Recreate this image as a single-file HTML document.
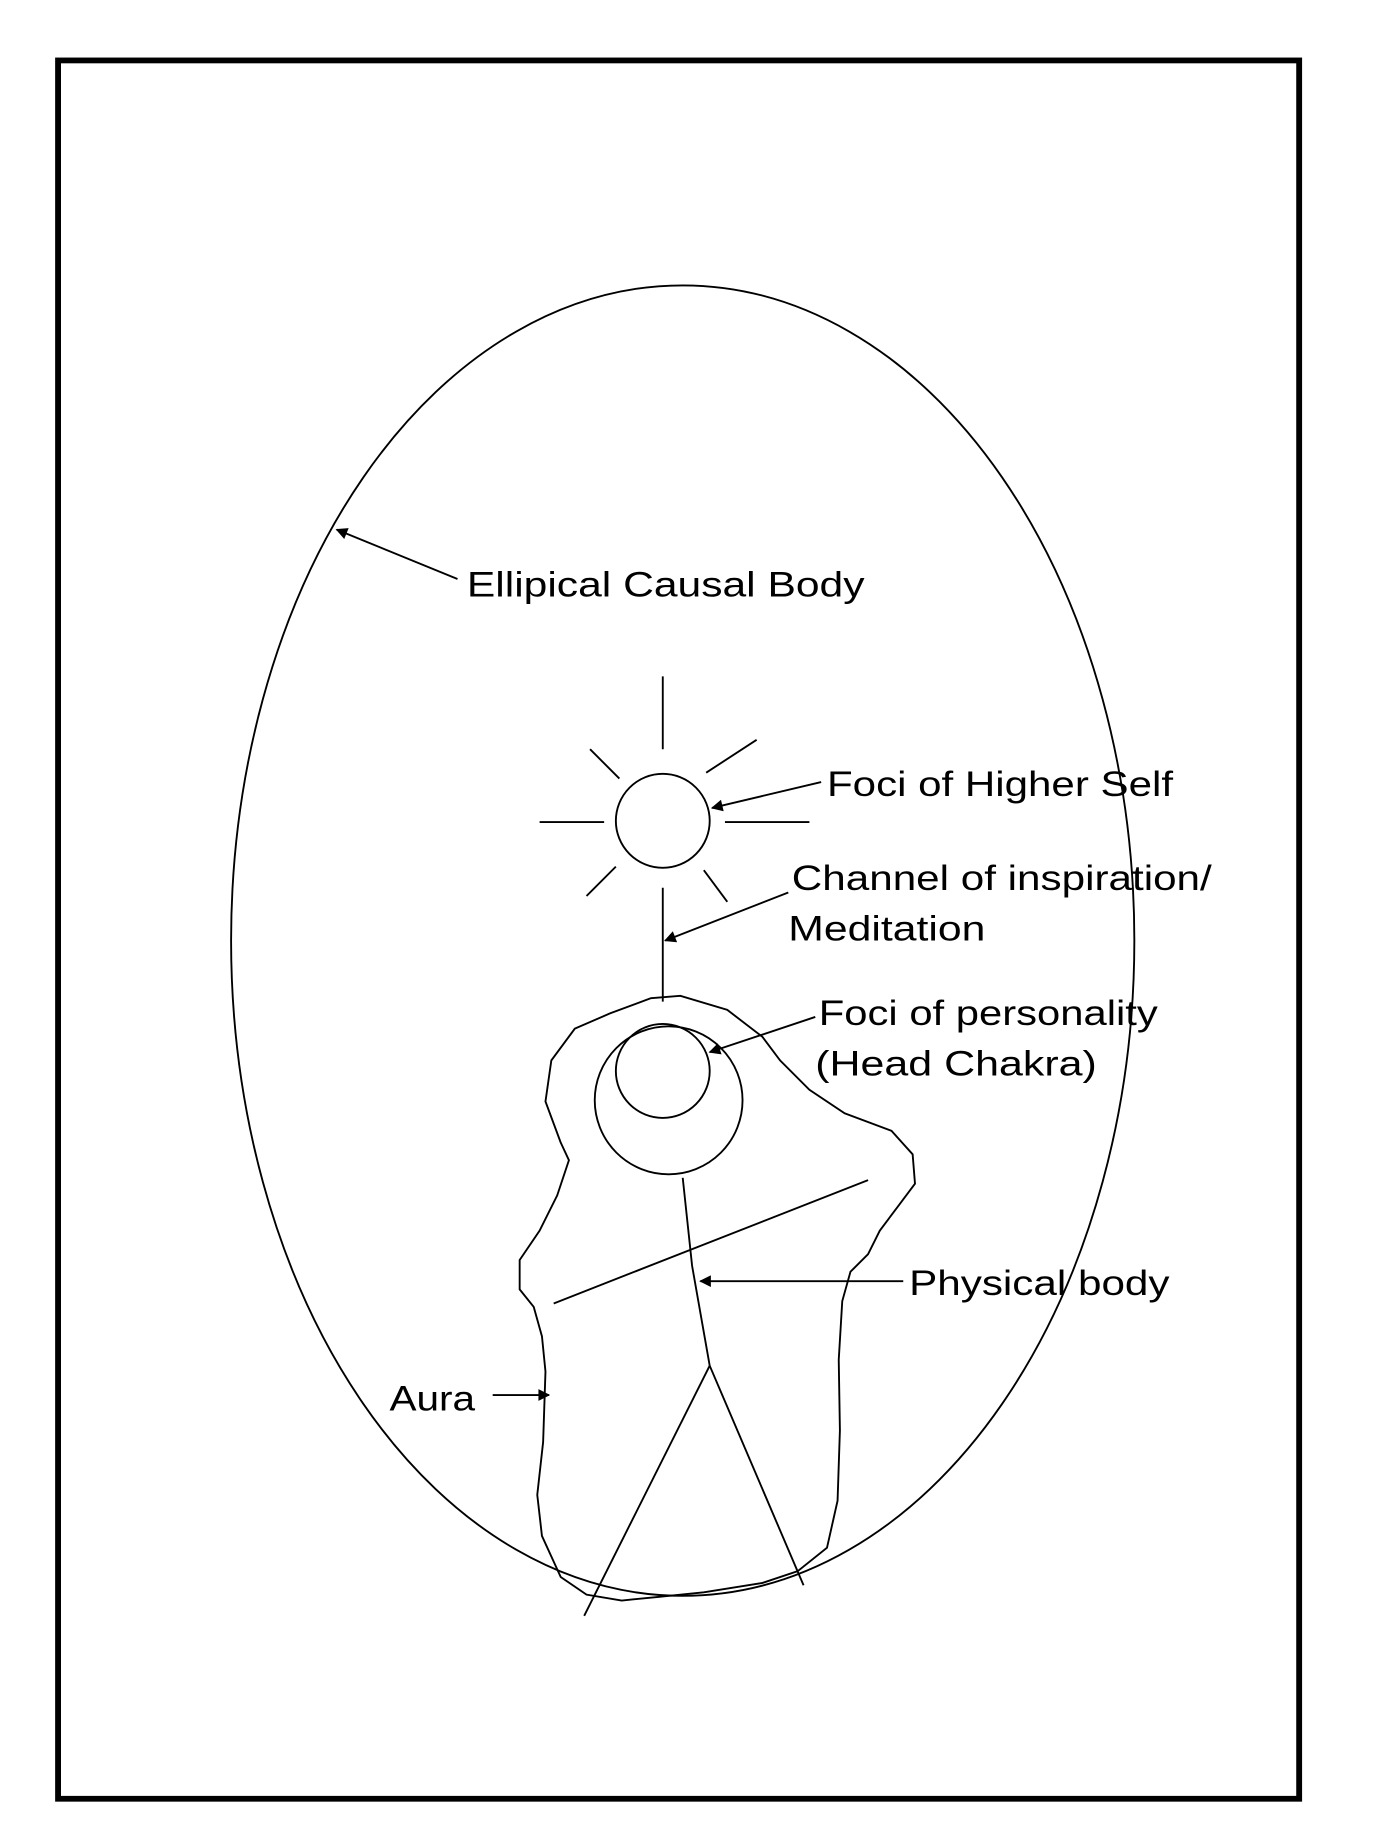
<!DOCTYPE html>
<html><head><style>html,body{margin:0;padding:0;background:#fff}svg{display:block}</style></head>
<body>
<svg width="1374" height="1834" viewBox="0 0 1171.3 1593.1" preserveAspectRatio="none" xmlns="http://www.w3.org/2000/svg">
<defs><marker id="a" viewBox="0 0 10 10" refX="9" refY="5" markerWidth="14" markerHeight="10" markerUnits="userSpaceOnUse" orient="auto"><path d="M0,0L10,5L0,10z" fill="#000"/></marker></defs>
<rect x="49.5" y="52.5" width="1058" height="1510" fill="none" stroke="#000" stroke-width="5"/>
<g transform="matrix(1,0,0,1.02,0,-2)">
<g fill="none" stroke="#000" stroke-width="1.6">
<ellipse cx="582" cy="803" rx="385" ry="558"/>
<circle cx="565" cy="701" r="40"/>
<line x1="565" y1="578" x2="565" y2="640"/>
<line x1="460" y1="702" x2="515" y2="702"/>
<line x1="618" y1="702" x2="690" y2="702"/>
<line x1="503" y1="640" x2="528" y2="665"/>
<line x1="602" y1="660" x2="645" y2="632"/>
<line x1="500" y1="765" x2="525" y2="740"/>
<line x1="600" y1="743" x2="620" y2="770"/>
<line x1="565" y1="758" x2="565" y2="855"/>
<circle cx="570" cy="939" r="63"/>
<circle cx="565" cy="914" r="40"/>
<path d="M555,852 L520,865 490,878 470,905 465,940 478,975 485,990 475,1020 460,1050 443,1075 443,1100 455,1115 462,1140 465,1170 463,1230 458,1275 462,1310 478,1345 500,1360 530,1365 560,1362 600,1358 650,1350 680,1340 705,1320 714,1280 716,1220 715,1160 718,1110 725,1085 740,1070 750,1050 765,1030 780,1010 778,985 760,965 720,950 690,930 665,905 650,885 620,862 580,850 Z"/>
<polyline points="582,1005 590,1080 605,1165"/>
<line x1="605" y1="1165" x2="498" y2="1378"/>
<line x1="605" y1="1165" x2="685" y2="1352"/>
<line x1="472" y1="1112" x2="740" y2="1007"/>
<line x1="700" y1="668" x2="607" y2="690" marker-end="url(#a)"/>
<line x1="672" y1="762" x2="567" y2="803" marker-end="url(#a)"/>
<line x1="695" y1="868" x2="605" y2="898" marker-end="url(#a)"/>
<line x1="770" y1="1093" x2="597" y2="1093" marker-end="url(#a)"/>
<line x1="420" y1="1190" x2="468" y2="1190" marker-end="url(#a)"/>
<line x1="390" y1="495" x2="287" y2="453" marker-end="url(#a)"/>
</g>
<g font-family="Liberation Sans, Arial, sans-serif" font-size="30" fill="#000">
<text x="398" y="510" textLength="339" lengthAdjust="spacingAndGlyphs">Ellipical Causal Body</text>
<text x="705" y="680" textLength="295" lengthAdjust="spacingAndGlyphs">Foci of Higher Self</text>
<text x="675" y="760" textLength="358" lengthAdjust="spacingAndGlyphs">Channel of inspiration/</text>
<text x="672" y="803" textLength="168" lengthAdjust="spacingAndGlyphs">Meditation</text>
<text x="698" y="875" textLength="289" lengthAdjust="spacingAndGlyphs">Foci of personality</text>
<text x="695" y="918" textLength="240" lengthAdjust="spacingAndGlyphs">(Head Chakra)</text>
<text x="775" y="1105" textLength="222" lengthAdjust="spacingAndGlyphs">Physical body</text>
<text x="332" y="1203" textLength="73" lengthAdjust="spacingAndGlyphs">Aura</text>
</g>
</g>
</svg>
</body></html>
